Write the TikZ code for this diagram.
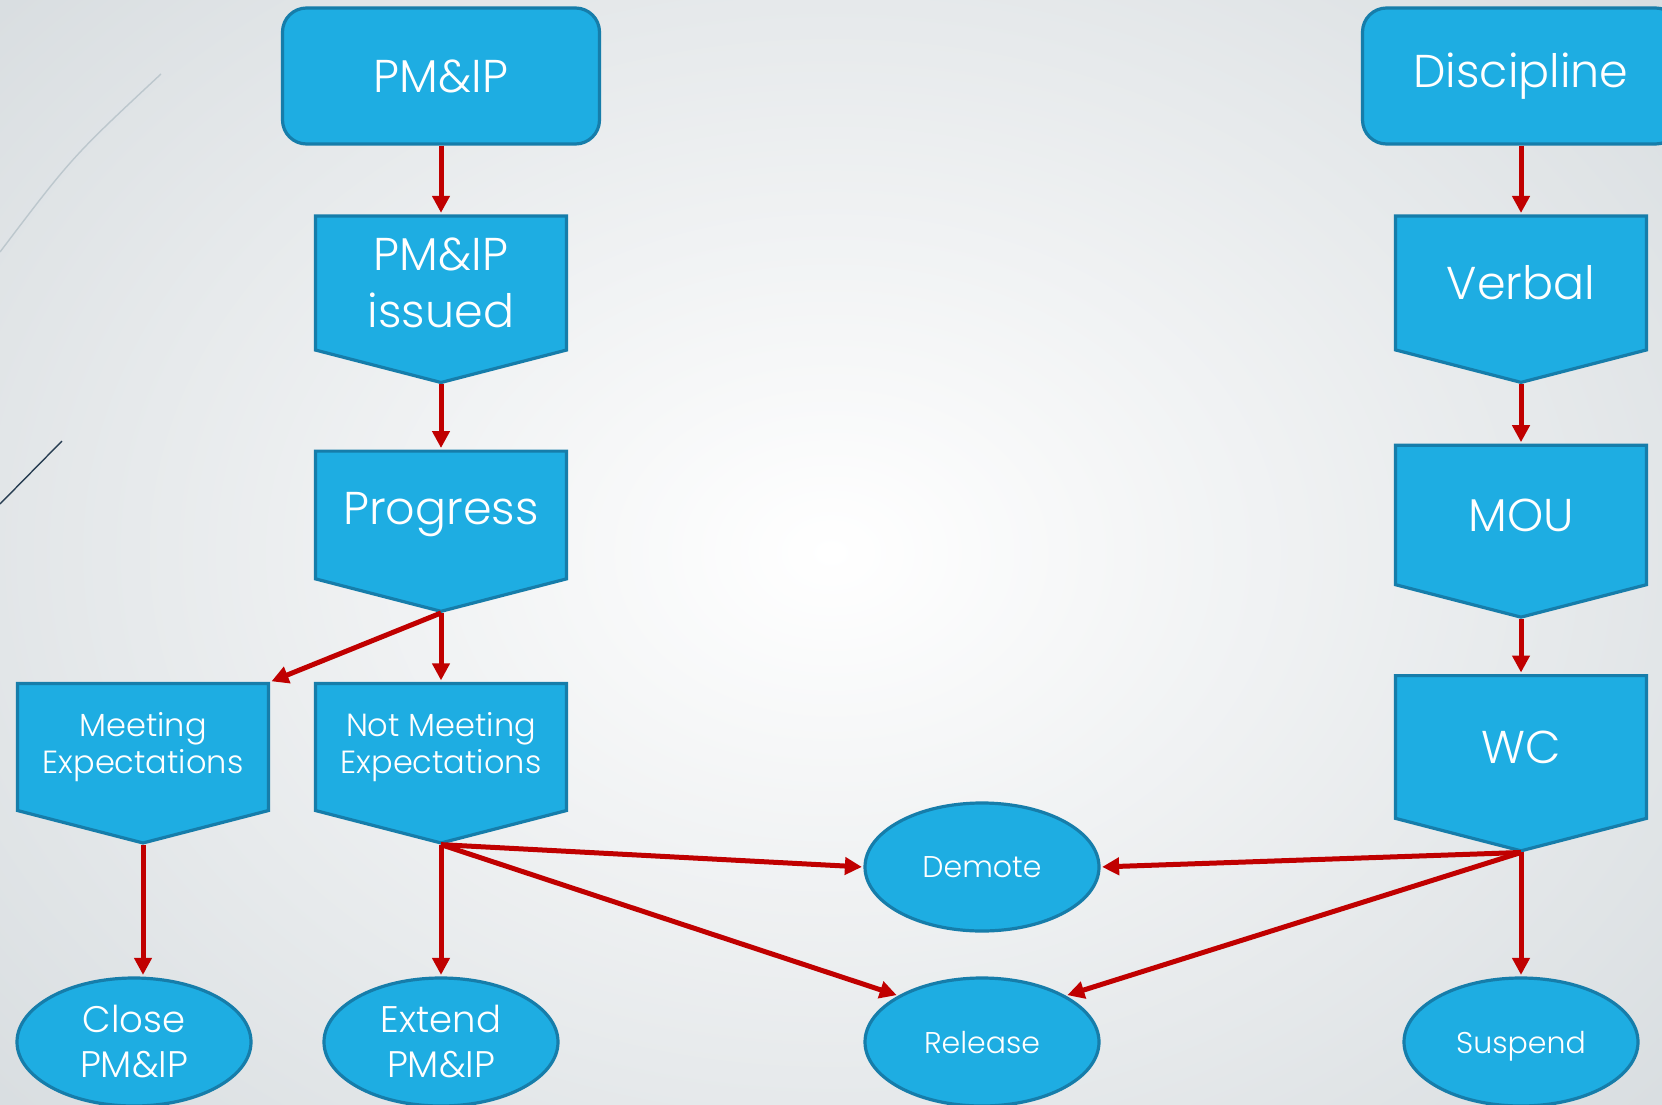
\documentclass[tikz,border=0pt]{standalone}
\usepackage{fontspec}
\IfFontExistsTF{Poppins Light}{\setmainfont{Poppins Light}}{\setmainfont{Poppins}}
\usepackage{tikz}
\usetikzlibrary{arrows.meta,shapes.geometric,shapes.symbols,positioning}
\definecolor{boxfill}{RGB}{30,173,226}
\definecolor{boxline}{RGB}{22,125,170}
\definecolor{flowred}{RGB}{192,0,0}
\definecolor{bgedge}{RGB}{216,221,224}
\definecolor{swoosh}{RGB}{188,199,205}
\definecolor{swooshdark}{RGB}{40,62,82}
\newcommand{\hugefont}{\fontsize{46}{57}\selectfont}
\newcommand{\midfont}{\fontsize{32}{37}\selectfont}
\newcommand{\ovalfont}{\fontsize{37}{45}\selectfont}
\newcommand{\smallfont}{\fontsize{30}{36}\selectfont}
\tikzset{
  >={Triangle[length=17pt,width=17pt]},
  topbox/.style={rectangle, rounded corners=24pt, draw=boxline, fill=boxfill, line width=3.2pt,
                 minimum width=317pt, minimum height=136pt, text=white, font=\hugefont},
  sigbox/.style={signal, signal to=south, signal pointer angle=151, draw=boxline, fill=boxfill,
                 line width=3.2pt, minimum width=251pt, minimum height=153pt, inner sep=0pt,
                 text=white, align=center, font=\hugefont},
  endoval/.style={ellipse, draw=boxline, fill=boxfill, line width=3.2pt, minimum width=234pt,
                  minimum height=128pt, inner sep=0pt, text=white, align=center, font=\ovalfont},
  endword/.style={endoval, font=\smallfont, text depth=0pt},
  flow/.style={draw=flowred, line width=5pt, ->, shorten >=1.5pt}
}

\begin{document}
\begin{tikzpicture}[x=1pt,y=-1pt]
    % Background
    \useasboundingbox (0,0) rectangle (1662,1105);
    \clip (0,0) rectangle (1662,1105);
    \shade[inner color=white, outer color=bgedge] (-300,-300) rectangle (1962,1405);
    \draw[swoosh, line width=1.4pt] (0,252) .. controls (72,157) .. (161,74);
    \draw[swooshdark, line width=1.4pt] (0,504) -- (62,441);

    % Improvement plan column
    \node[topbox] (pmip) at (441,76) {PM\&IP};
    \node[sigbox] (issued) at (441,283) {PM\&IP\\issued};
    \node[sigbox] (progress) at (441,515) {Progress};
    \node[sigbox, font=\midfont] (meet) at (143,747) {Meeting\\Expectations};
    \node[sigbox, font=\midfont] (notmeet) at (441,747) {Not Meeting\\Expectations};
    \node[endoval] (close) at (134,1042) {Close\\PM\&IP};
    \node[endoval] (extend) at (441,1042) {Extend\\PM\&IP};

    % Discipline column
    \node[topbox] (discipline) at (1521,76) {Discipline};
    \node[sigbox] (verbal) at (1521,283) {Verbal};
    \node[sigbox] (mou) at (1521,515) {MOU};
    \node[sigbox] (wc) at (1521,747) {WC};
    \node[endword] (suspend) at (1521,1042) {Suspend};

    % Outcomes
    \node[endword] (demote) at (982,867) {Demote};
    \node[endword] (release) at (982,1042) {Release};

    % Connectors
    \draw[flow] (pmip.south) -- (issued.north);
    \draw[flow] (issued.south) -- (progress.north);
    \draw[flow] (progress.south) -- (meet.north east);
    \draw[flow] (progress.south) -- (notmeet.north);
    \draw[flow] (meet.south) -- (meet.south |- close.north);
    \draw[flow] (notmeet.south) -- (extend.north);
    \draw[flow] (notmeet.south) -- (demote.west);
    \draw[flow] (notmeet.south) -- (release.north west);
    \draw[flow] (discipline.south) -- (verbal.north);
    \draw[flow] (verbal.south) -- (mou.north);
    \draw[flow] (mou.south) -- (wc.north);
    \draw[flow] (wc.south) -- (demote.east);
    \draw[flow] (wc.south) -- (release.north east);
    \draw[flow] (wc.south) -- (suspend.north);

\end{tikzpicture}
\end{document}
